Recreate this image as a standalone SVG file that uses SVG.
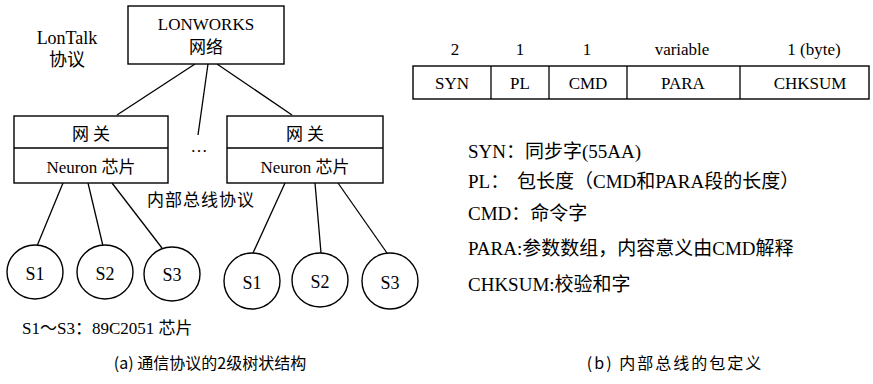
<svg xmlns="http://www.w3.org/2000/svg" width="873" height="384" viewBox="0 0 873 384">
<style>
text{font-family:"Liberation Serif","Times New Roman","Noto Sans CJK SC",serif;fill:#000;font-size:17px}
.c{text-anchor:middle}
.r{font-size:18px}
.d{font-size:19px}
.box{fill:#fff;stroke:#000;stroke-width:1.4}
.ln{stroke:#000;stroke-width:1.3;fill:none}
.cap{font-family:"Noto Sans CJK SC","Liberation Sans",sans-serif;font-size:16px}
</style>
<rect width="873" height="384" fill="#fff"/>
<g id="connectors" class="ln">
 <line x1="195" y1="64" x2="117" y2="115"/>
 <line x1="208" y1="64" x2="198" y2="135"/>
 <line x1="217" y1="64" x2="292" y2="115"/>
 <line x1="63" y1="183" x2="37" y2="246"/>
 <line x1="88" y1="183" x2="103" y2="246"/>
 <line x1="112" y1="183" x2="162" y2="248"/>
 <line x1="285" y1="183" x2="253" y2="253"/>
 <line x1="315" y1="183" x2="321" y2="253"/>
 <line x1="338" y1="183" x2="387" y2="253"/>
</g>
<g id="lonworks">
 <rect class="box" x="128" y="6" width="156" height="58"/>
 <text class="c" x="206" y="30">LONWORKS</text>
 <text class="c" x="206" y="53">网络</text>
</g>
<g id="lontalk">
 <text class="c r" x="67" y="44">LonTalk</text>
 <text class="c r" x="67" y="66">协议</text>
</g>
<g id="gateway1">
 <rect class="box" x="14" y="116" width="154" height="67"/>
 <line class="ln" x1="14" y1="148" x2="168" y2="148"/>
 <text class="c" x="91" y="140">网 关</text>
 <text class="c" x="91" y="173">Neuron 芯片</text>
</g>
<g id="ellipsis"><text class="c" x="199" y="152">…</text></g>
<g id="gateway2">
 <rect class="box" x="227" y="116" width="156" height="67"/>
 <line class="ln" x1="227" y1="148" x2="383" y2="148"/>
 <text class="c" x="305" y="140">网 关</text>
 <text class="c" x="305" y="173">Neuron 芯片</text>
</g>
<g id="busproto"><text x="147" y="206" style="letter-spacing:1px">内部总线协议</text></g>
<g id="s1a"><ellipse class="box" cx="35" cy="272" rx="28" ry="27"/><text class="c r" x="35" y="280">S1</text></g>
<g id="s2a"><ellipse class="box" cx="105" cy="272" rx="28" ry="27"/><text class="c r" x="105" y="280">S2</text></g>
<g id="s3a"><ellipse class="box" cx="172" cy="274" rx="28" ry="27"/><text class="c r" x="172" y="281">S3</text></g>
<g id="s1b"><ellipse class="box" cx="252" cy="281" rx="28" ry="28"/><text class="c r" x="252" y="289">S1</text></g>
<g id="s2b"><ellipse class="box" cx="320" cy="280" rx="28" ry="27"/><text class="c r" x="320" y="288">S2</text></g>
<g id="s3b"><ellipse class="box" cx="390" cy="281" rx="28" ry="28"/><text class="c r" x="390" y="289">S3</text></g>
<g id="legend-a"><text x="22" y="334">S1～S3：89C2051 芯片</text></g>
<g id="caption-a"><text class="cap c" x="210" y="369">(a) 通信协议的2级树状结构</text></g>
<g id="packet">
 <rect class="box" x="413" y="66" width="456" height="33"/>
 <g class="ln">
  <line x1="491" y1="66" x2="491" y2="99"/>
  <line x1="549" y1="66" x2="549" y2="99"/>
  <line x1="627" y1="66" x2="627" y2="99"/>
  <line x1="740" y1="66" x2="740" y2="99"/>
 </g>
 <text class="c" x="455" y="55">2</text>
 <text class="c" x="520" y="55">1</text>
 <text class="c" x="587" y="55">1</text>
 <text class="c" x="682" y="55">variable</text>
 <text class="c" x="814" y="55">1 (byte)</text>
 <text class="c" x="452" y="89">SYN</text>
 <text class="c" x="520" y="89">PL</text>
 <text class="c" x="588" y="89">CMD</text>
 <text class="c" x="683" y="89">PARA</text>
 <text class="c" x="810" y="89">CHKSUM</text>
</g>
<g id="defs-text">
 <text class="d" x="468" y="158">SYN：同步字(55AA)</text>
 <text class="d" x="468" y="188">PL：<tspan x="517">包长度（CMD和PARA段的长度）</tspan></text>
 <text class="d" x="468" y="220">CMD：命令字</text>
 <text class="d" x="468" y="255">PARA:参数数组，内容意义由CMD解释</text>
 <text class="d" x="468" y="291">CHKSUM:校验和字</text>
</g>
<g id="caption-b"><text class="cap c" x="675" y="369" style="letter-spacing:2px">(b) 内部总线的包定义</text></g>
</svg>
